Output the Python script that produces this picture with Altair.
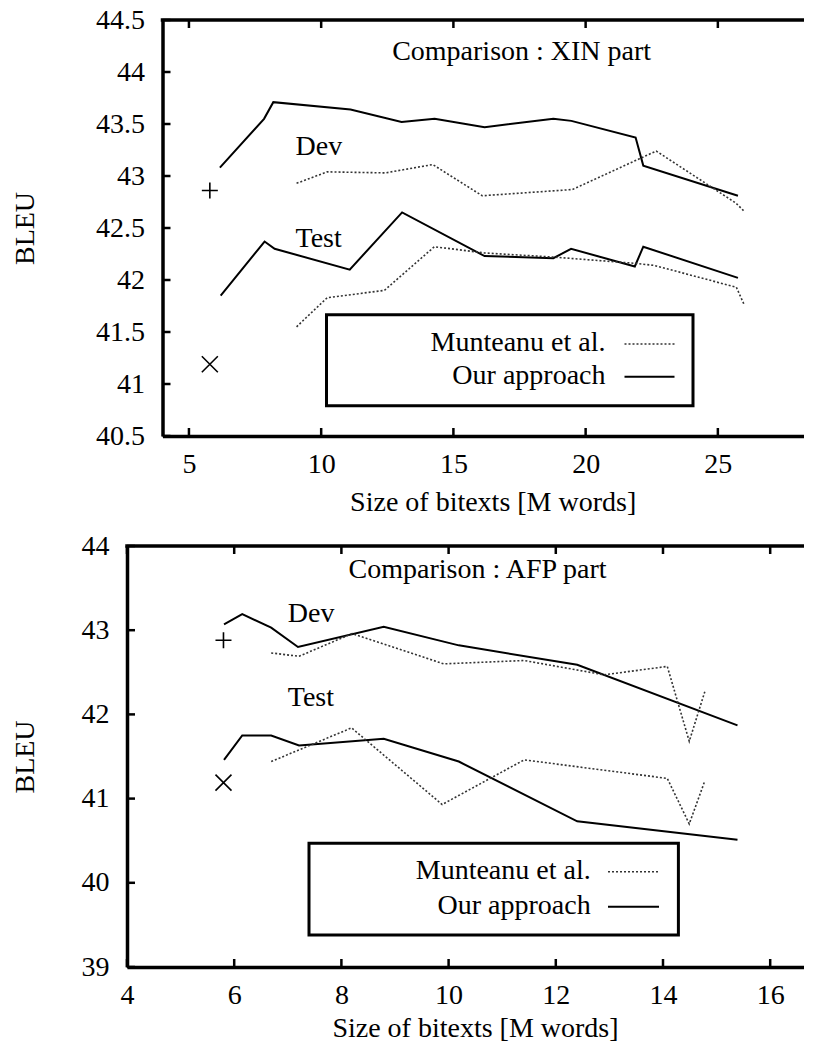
import altair as alt
import pandas as pd

FONT = "Liberation Serif"
FS = 28

# ---------------- XIN part (top) ----------------
XIN_OURS_DEV_X = [6.17, 7.84, 8.19, 11.11, 13.04, 14.29, 16.18, 18.78, 19.46, 21.89, 22.18, 25.76]
XIN_OURS_DEV_Y = [43.08, 43.55, 43.71, 43.64, 43.52, 43.55, 43.47, 43.55, 43.53, 43.37, 43.10, 42.81]
XIN_MUNT_DEV_X = [9.07, 10.23, 12.43, 14.22, 16.09, 19.50, 22.67, 25.68, 26.00]
XIN_MUNT_DEV_Y = [42.93, 43.04, 43.03, 43.11, 42.81, 42.87, 43.24, 42.74, 42.66]
XIN_OURS_TEST_X = [6.20, 7.86, 8.24, 11.08, 13.06, 16.18, 18.78, 19.45, 21.86, 22.18, 25.76]
XIN_OURS_TEST_Y = [41.85, 42.37, 42.30, 42.10, 42.65, 42.23, 42.21, 42.30, 42.13, 42.32, 42.02]
XIN_MUNT_TEST_X = [9.07, 10.23, 12.39, 14.28, 16.18, 18.80, 21.89, 22.60, 25.70, 26.00]
XIN_MUNT_TEST_Y = [41.55, 41.83, 41.90, 42.32, 42.26, 42.22, 42.16, 42.14, 41.93, 41.76]
XIN_BASE_X = [5.79, 5.79]
XIN_BASE_Y = [42.86, 41.19]

# ---------------- AFP part (bottom) ----------------
AFP_OURS_DEV_X = [5.81, 6.15, 6.69, 7.19, 8.79, 10.19, 12.40, 15.39]
AFP_OURS_DEV_Y = [43.07, 43.19, 43.03, 42.80, 43.04, 42.82, 42.59, 41.87]
AFP_MUNT_DEV_X = [6.69, 7.21, 8.20, 9.91, 11.41, 12.90, 14.08, 14.49, 14.78]
AFP_MUNT_DEV_Y = [42.73, 42.69, 42.96, 42.60, 42.64, 42.47, 42.57, 41.68, 42.27]
AFP_OURS_TEST_X = [5.81, 6.15, 6.69, 7.21, 8.79, 10.19, 12.40, 15.39]
AFP_OURS_TEST_Y = [41.46, 41.75, 41.75, 41.63, 41.71, 41.44, 40.73, 40.51]
AFP_MUNT_TEST_X = [6.69, 8.19, 9.88, 11.41, 14.08, 14.49, 14.78]
AFP_MUNT_TEST_Y = [41.44, 41.84, 40.93, 41.46, 41.24, 40.70, 41.21]
AFP_BASE_X = [5.80, 5.80]
AFP_BASE_Y = [42.88, 41.19]

BASE_KIND = ["plus", "cross"]

XIN_X_TICKS = [5, 10, 15, 20, 25]
XIN_Y_TICKS = [40.5, 41, 41.5, 42, 42.5, 43, 43.5, 44, 44.5]
AFP_X_TICKS = [4, 6, 8, 10, 12, 14, 16]
AFP_Y_TICKS = [39, 40, 41, 42, 43, 44]

LEGEND_LABELS = ["Munteanu et al.", "Our approach"]
X_TITLE = "Size of bitexts [M words]"
Y_TITLE = "BLEU"

PLUS = "M-1,0L1,0M0,-1L0,1"
CROSS = "M-1,-1L1,1M-1,1L1,-1"


def lines_df(od_x, od_y, md_x, md_y, ot_x, ot_y, mt_x, mt_y):
    rows = []
    for method, s, xs, ys in [("ours", "dev", od_x, od_y), ("munt", "dev", md_x, md_y),
                              ("ours", "test", ot_x, ot_y), ("munt", "test", mt_x, mt_y)]:
        for i, (a, b) in enumerate(zip(xs, ys)):
            rows.append({"method": method, "set": method + s, "x": a, "y": b, "i": i})
    return pd.DataFrame(rows)


def panel(lines, base, annot, xdom, ydom, xticks, yticks, W, H, x0,
          ytitle_x, xtitle_x, xtitle_pad, leg):
    # x0: pixel where the visible frame starts inside the (aligned) view
    xs = alt.Scale(domain=xdom, range=[x0, W], nice=False, zero=False)
    ys = alt.Scale(domain=ydom, nice=False, zero=False)
    common = dict(grid=False, ticks=False, domain=True, domainColor="black",
                  domainWidth=3.5, labelFont=FONT, labelFontSize=FS,
                  labelColor="black", labelFlush=False, labelOverlap=False, format="~g",
                  titleFont=FONT, titleFontSize=FS, titleFontWeight="normal", titleColor="black")
    xaxis = alt.Axis(values=xticks, title=X_TITLE, labelPadding=14, titlePadding=xtitle_pad,
                     titleX=xtitle_x, **common)
    yaxis = alt.Axis(values=yticks, title=Y_TITLE, labelPadding=18, titleX=ytitle_x,
                     titleY=H / 2, titleAlign="center", titleBaseline="middle",
                     offset=-x0, **common)

    def X(f):
        return alt.X(f, scale=xs, axis=xaxis, title=X_TITLE)

    def Y(f):
        return alt.Y(f, scale=ys, axis=yaxis, title=Y_TITLE)

    one = pd.DataFrame({"a": [0]})
    xt = pd.DataFrame({"x": xticks})
    yt = pd.DataFrame({"y": yticks})

    ours = alt.Chart(lines).transform_filter(alt.datum.method == "ours").mark_line(
        color="black", strokeWidth=2).encode(
        x=X("x:Q"), y=Y("y:Q"), detail="set:N", order="i:Q")
    munt = alt.Chart(lines).transform_filter(alt.datum.method == "munt").mark_line(
        color="#333333", strokeWidth=1.6, strokeDash=[2, 2]).encode(
        x=X("x:Q"), y=Y("y:Q"), detail="set:N", order="i:Q")

    frame_top = alt.Chart(one).mark_rule(color="black", strokeWidth=3.5, strokeCap="square").encode(
        x=alt.value(x0), x2=alt.value(W), y=alt.value(0))
    xt_bot = alt.Chart(xt).mark_rule(color="black", strokeWidth=2.5).encode(
        x=X("x:Q"), y=alt.value(H), y2=alt.value(H - 8))
    xt_top = alt.Chart(xt).mark_rule(color="black", strokeWidth=2.5).encode(
        x=X("x:Q"), y=alt.value(0), y2=alt.value(8))
    yt_left = alt.Chart(yt).mark_rule(color="black", strokeWidth=2.5).encode(
        y=Y("y:Q"), x=alt.value(x0), x2=alt.value(x0 + 8))
    yt_right = alt.Chart(yt).mark_rule(color="#999999", strokeWidth=2).encode(
        y=Y("y:Q"), x=alt.value(W - 2.5), x2=alt.value(W))

    marks = alt.Chart(base).mark_point(filled=False, size=256, strokeWidth=1.6,
                                       color="black", opacity=1).encode(
        x=X("x:Q"), y=Y("y:Q"),
        shape=alt.Shape("kind:N", scale=alt.Scale(domain=["plus", "cross"], range=[PLUS, CROSS]),
                        legend=None))

    ann_left = alt.Chart(annot).transform_filter(alt.datum.kind == "left").mark_text(
        font=FONT, fontSize=FS, align="left", baseline="middle", color="black").encode(
        x=X("x:Q"), y=Y("y:Q"), text="text:N")
    ann_title = alt.Chart(annot).transform_filter(alt.datum.kind == "title").mark_text(
        font=FONT, fontSize=FS, align="center", baseline="middle", color="black").encode(
        x=X("x:Q"), y=Y("y:Q"), text="text:N")

    bx1, bx2, by1, by2, tx, sx1, sx2, r1, r2 = [v + (x0 if k in (0, 1, 4, 5, 6) else 0)
                                              for k, v in enumerate(leg)]
    leg_box = alt.Chart(one).mark_rect(fill="white", stroke="black", strokeWidth=3).encode(
        x=alt.value(bx1), x2=alt.value(bx2), y=alt.value(by1), y2=alt.value(by2))
    leg_t1 = alt.Chart(one).mark_text(text=LEGEND_LABELS[0], font=FONT, fontSize=FS, align="right",
                                      baseline="middle", color="black").encode(
        x=alt.value(tx), y=alt.value(r1 - 1))
    leg_t2 = alt.Chart(one).mark_text(text=LEGEND_LABELS[1], font=FONT, fontSize=FS, align="right",
                                      baseline="middle", color="black").encode(
        x=alt.value(tx), y=alt.value(r2 - 1))
    leg_s1 = alt.Chart(one).mark_rule(color="#333333", strokeWidth=1.6, strokeDash=[2, 2]).encode(
        x=alt.value(sx1), x2=alt.value(sx2), y=alt.value(r1))
    leg_s2 = alt.Chart(one).mark_rule(color="black", strokeWidth=2).encode(
        x=alt.value(sx1), x2=alt.value(sx2), y=alt.value(r2))

    return alt.layer(ours, munt, frame_top, xt_bot, xt_top, yt_left, yt_right, marks,
                     ann_left, ann_title, leg_box, leg_s1, leg_s2, leg_t1, leg_t2).properties(
        width=W, height=H)


xin_lines = lines_df(XIN_OURS_DEV_X, XIN_OURS_DEV_Y, XIN_MUNT_DEV_X, XIN_MUNT_DEV_Y,
                     XIN_OURS_TEST_X, XIN_OURS_TEST_Y, XIN_MUNT_TEST_X, XIN_MUNT_TEST_Y)
afp_lines = lines_df(AFP_OURS_DEV_X, AFP_OURS_DEV_Y, AFP_MUNT_DEV_X, AFP_MUNT_DEV_Y,
                     AFP_OURS_TEST_X, AFP_OURS_TEST_Y, AFP_MUNT_TEST_X, AFP_MUNT_TEST_Y)
xin_base = pd.DataFrame({"x": XIN_BASE_X, "y": XIN_BASE_Y, "kind": BASE_KIND})
afp_base = pd.DataFrame({"x": AFP_BASE_X, "y": AFP_BASE_Y, "kind": BASE_KIND})

xin_annot = pd.DataFrame({"text": ["Comparison : XIN part", "Dev", "Test"],
                          "x": [17.58, 9.03, 9.03], "y": [44.19, 43.28, 42.39],
                          "kind": ["title", "left", "left"]})
afp_annot = pd.DataFrame({"text": ["Comparison : AFP part", "Dev", "Test"],
                          "x": [10.54, 7.0, 7.0], "y": [43.72, 43.19, 42.19],
                          "kind": ["title", "left", "left"]})

top = panel(xin_lines, xin_base, xin_annot, [4, 28.56], [40.5, 44.5], XIN_X_TICKS, XIN_Y_TICKS,
            685, 416, 35.5, -136.8, 365.7, 10,
            (164, 530.5, 294.7, 385.7, 443, 462, 512, 324, 356.7))
bottom = panel(afp_lines, afp_base, afp_annot, [4, 16.78], [39, 44], AFP_X_TICKS, AFP_Y_TICKS,
               685, 421, 0, -101.3, 348, 5,
               (182, 551.4, 297.3, 389, 463.7, 481, 532, 325.7, 360.7))

chart = alt.vconcat(top, bottom, spacing=16).properties(
    padding={"left": 3, "top": -2, "right": -11, "bottom": 0},
    background="white",
).configure_view(strokeWidth=0)

chart.save("out.html", embed_options={"renderer": "svg", "actions": False})
